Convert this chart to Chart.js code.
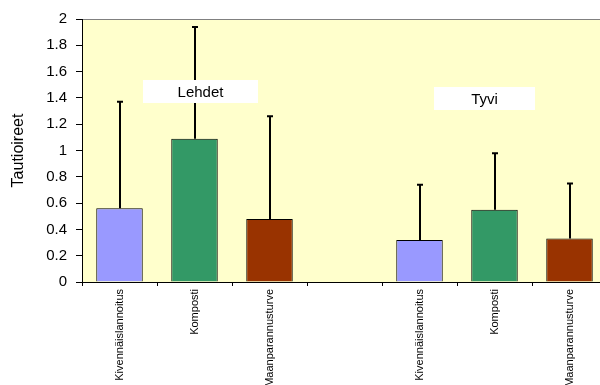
<!DOCTYPE html>
<html>
<head>
<meta charset="utf-8">
<script src="https://cdn.jsdelivr.net/npm/chart.js@4/dist/chart.umd.min.js"></script>
<style>
  body { margin: 0; background: #fff; }
  #wrap { width: 600px; height: 385px; overflow: hidden; }
</style>
</head>
<body>
<div id="wrap"><canvas id="chart" width="612" height="385"></canvas></div>
<script>
// Tautioireet (mean) per treatment, two groups: Lehdet and Tyvi
const categories = ['Kivennäislannoitus', 'Komposti', 'Maanparannusturve', '', 'Kivennäislannoitus', 'Komposti', 'Maanparannusturve'];
const meanValues = [0.56, 1.09, 0.48, null, 0.32, 0.55, 0.33];
const errorValues = [0.81, 0.85, 0.78, null, 0.42, 0.43, 0.42]; // upper error only
const barColors = ['#9999FF', '#339966', '#993300', '#fff', '#9999FF', '#339966', '#993300'];
const groupNames = ['Lehdet', 'Tyvi'];
const yTicks = { min: 0, max: 2, step: 0.2 };

const FONT = 'Liberation Sans, Arial, sans-serif';

// yellow plot background with grey frame
const plotBackground = {
    id: 'plotBackground',
    beforeDraw(chart) {
        const { ctx, chartArea: a } = chart;
        ctx.save();
        ctx.fillStyle = '#FFFFCC';
        ctx.fillRect(a.left, a.top, a.right - a.left, a.bottom - a.top);
        ctx.strokeStyle = '#808080';
        ctx.lineWidth = 1;
        ctx.strokeRect(a.left + 0.5, a.top + 0.5, a.right - a.left, a.bottom - a.top);
        ctx.restore();
    }
};

// error bars (upward) drawn from the data through the scales
const errorBars = {
    id: 'errorBars',
    afterDatasetsDraw(chart) {
        const { ctx } = chart;
        const meta = chart.getDatasetMeta(0);
        const y = chart.scales.y;
        ctx.save();
        ctx.strokeStyle = '#000';
        ctx.lineWidth = 2;
        meta.data.forEach((bar, i) => {
            if (meanValues[i] == null) return;
            const x = Math.round(bar.x);
            const top = y.getPixelForValue(meanValues[i] + errorValues[i]);
            const base = y.getPixelForValue(meanValues[i]);
            ctx.beginPath();
            ctx.moveTo(x, base);
            ctx.lineTo(x, top);
            ctx.moveTo(x - 3, top);
            ctx.lineTo(x + 3, top);
            ctx.stroke();
        });
        ctx.restore();
    }
};

// white label boxes for the two groups
const groupLabels = {
    id: 'groupLabels',
    afterDatasetsDraw(chart, args, opts) {
        const { ctx } = chart;
        ctx.save();
        ctx.font = '15px ' + FONT;
        ctx.textAlign = 'center';
        ctx.textBaseline = 'middle';
        opts.boxes.forEach((b, i) => {
            ctx.fillStyle = '#fff';
            ctx.fillRect(b.x, b.y, b.w, b.h);
            ctx.fillStyle = '#000';
            ctx.fillText(groupNames[i], b.x + b.w / 2, b.y + b.h / 2 + 1);
        });
        ctx.restore();
    }
};

new Chart(document.getElementById('chart'), {
    type: 'bar',
    data: {
        labels: categories,
        datasets: [{
            data: meanValues,
            backgroundColor: barColors,
            borderColor: '#000',
            borderWidth: 1,
            categoryPercentage: 1,
            barPercentage: 0.62
        }]
    },
    options: {
        responsive: false,
        animation: false,
        layout: { padding: { top: 19, right: 5, left: 0, bottom: 0 } },
        plugins: {
            legend: { display: false },
            tooltip: { enabled: false },
            groupLabels: {
                boxes: [
                    { x: 143, y: 80, w: 115, h: 23 },
                    { x: 434, y: 87, w: 101, h: 23 }
                ]
            }
        },
        scales: {
            x: {
                grid: { drawOnChartArea: false, offset: true, tickLength: 4, color: '#000' },
                border: { color: '#000', width: 1 },
                ticks: {
                    autoSkip: false,
                    maxRotation: 90,
                    minRotation: 90,
                    padding: 3,
                    color: '#000',
                    font: { family: FONT, size: 11 }
                },
                afterFit(scale) { scale.height = 103; }
            },
            y: {
                min: yTicks.min,
                max: yTicks.max,
                grid: { drawOnChartArea: false, tickLength: 6, color: '#000' },
                border: { color: '#000', width: 1 },
                ticks: {
                    stepSize: yTicks.step,
                    padding: 9,
                    color: '#000',
                    font: { family: FONT, size: 15 },
                    callback: (v) => String(Math.round(v * 10) / 10)
                },
                title: {
                    display: true,
                    text: 'Tautioireet',
                    color: '#000',
                    padding: { top: 9, bottom: 0 },
                    font: { family: FONT, size: 16 }
                },
                afterFit(scale) { scale.width = 82; }
            }
        }
    },
    plugins: [plotBackground, errorBars, groupLabels]
});
</script>
</body>
</html>
